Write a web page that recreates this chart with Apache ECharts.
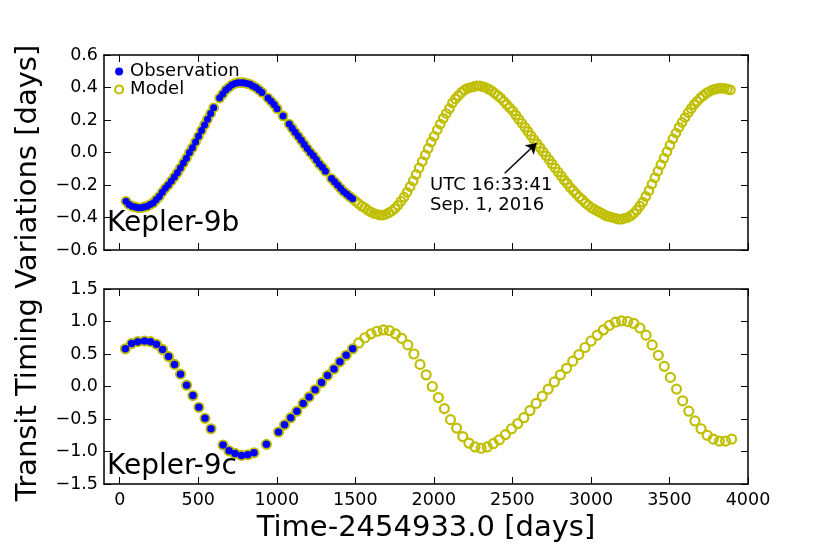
<!DOCTYPE html>
<html>
<head>
<meta charset="utf-8">
<script src="https://cdn.jsdelivr.net/npm/echarts@6/dist/echarts.min.js"></script>
<style>
  html, body { margin: 0; padding: 0; background: #fff; }
  #main { width: 830px; height: 554px; }
</style>
</head>
<body>
<div id="main"></div>
<script>
// Kepler-9b: observed transit times (days) and TTV (days)
const bObsT = [40,59,78,98,117,136,155,175,194,213,232,252,271,290,309,329,348,367,386,406,425,444,463,483,502,521,540,559,579,598,
  636,656,675,694,713,733,752,771,790,810,829,848,867,887,906,
  944,964,983,1002,
  1040,
  1079,1098,1117,1137,1156,1175,1194,1214,1233,1252,1271,1291,1310,
  1348,1368,1387,1406,1425,1445,1464,1483]
const bObsV = [-0.30,-0.32,-0.33,-0.335,-0.34,-0.34,-0.335,-0.33,-0.32,-0.31,-0.29,-0.27,-0.245,-0.22,-0.20,-0.175,-0.15,-0.125,-0.095,-0.065,-0.035,0.00,0.03,0.065,0.10,0.135,0.17,0.205,0.24,0.275,
  0.335,0.36,0.385,0.40,0.415,0.425,0.43,0.43,0.43,0.425,0.42,0.41,0.40,0.385,0.37,
  0.335,0.315,0.295,0.27,
  0.225,
  0.175,0.15,0.125,0.10,0.075,0.05,0.025,0.00,-0.02,-0.045,-0.07,-0.09,-0.115,
  -0.16,-0.18,-0.20,-0.22,-0.24,-0.255,-0.27,-0.285]

// Kepler-9b: model prediction after the observations
const bFitT = [1502,1521,1541,1560,1579,1598,1618,1637,1656,1675,1695,1714,1733,1752,1772,1791,1810,1829,1849,1868,
  1887,1906,1926,1945,1964,1983,2002,2022,2041,2060,2079,2099,2118,2137,2156,2176,2195,2214,2233,2253,
  2272,2291,2310,2330,2349,2368,2387,2407,2426,2445,2464,2483,2503,2522,2541,2560,2580,2599,2618,2637,
  2657,2676,2695,2714,2734,2753,2772,2791,2811,2830,2849,2868,2888,2907,2926,2945,2964,2984,3003,3022,
  3041,3061,3080,3099,3118,3138,3157,3176,3195,3215,3234,3253,3272,3292,3311,3330,3349,3369,3388,3407,
  3426,3445,3465,3484,3503,3522,3542,3561,3580,3599,3619,3638,3657,3676,3696,3715,3734,3753,3773,3792,
  3811,3830,3850,3869,3888]
const bFitV = [-0.30,-0.315,-0.33,-0.34,-0.355,-0.365,-0.375,-0.38,-0.385,-0.385,-0.38,-0.37,-0.36,-0.345,-0.325,-0.30,-0.275,-0.245,-0.21,-0.175,
  -0.135,-0.095,-0.055,-0.015,0.025,0.065,0.10,0.14,0.175,0.21,0.24,0.27,0.305,0.33,0.35,0.37,0.385,0.395,0.40,0.405,
  0.41,0.41,0.405,0.40,0.39,0.38,0.365,0.35,0.335,0.315,0.295,0.275,0.255,0.23,0.205,0.18,0.155,0.13,0.105,0.08,
  0.055,0.03,0.005,-0.02,-0.045,-0.07,-0.095,-0.12,-0.145,-0.17,-0.19,-0.215,-0.235,-0.255,-0.275,-0.29,-0.31,-0.325,-0.34,-0.35,
  -0.36,-0.37,-0.38,-0.39,-0.395,-0.40,-0.405,-0.41,-0.41,-0.405,-0.40,-0.39,-0.375,-0.355,-0.33,-0.305,-0.27,-0.235,-0.195,-0.155,
  -0.115,-0.075,-0.035,0.005,0.045,0.085,0.12,0.155,0.185,0.215,0.245,0.27,0.295,0.315,0.335,0.35,0.365,0.375,0.385,0.39,
  0.395,0.395,0.395,0.39,0.385]

// Kepler-9c: observed transit times and TTV
const cObsT = [36,75,115,158,196,234,273,311,349,387,426,466,504,543,581,
  658,696,734,775,815,855,
  934,
  1011,1049,1089,1128,1168,1206,1244,1285,1323,1364,1402,1442,1483]
const cObsV = [0.58,0.66,0.69,0.70,0.69,0.65,0.57,0.46,0.34,0.19,0.02,-0.14,-0.32,-0.49,-0.65,
  -0.90,-0.99,-1.03,-1.06,-1.05,-1.02,
  -0.89,
  -0.70,-0.59,-0.48,-0.38,-0.26,-0.16,-0.05,0.06,0.17,0.27,0.38,0.48,0.58]

// Kepler-9c: model prediction
const cFitT = [1522,1561,1600,1639,1678,1717,1756,1795,1834,1873,1912,1951,1990,2029,2067,2106,2145,2184,2223,2262,
  2301,2340,2378,2417,2456,2495,2534,2573,2612,2651,2690,2728,2767,2806,2845,2884,2923,2962,3001,3040,
  3079,3117,3156,3195,3234,3273,3312,3351,3390,3429,3467,3506,3545,3584,3623,3662,3701,3740,3779,3818,
  3857,3896]
const cFitV = [0.67,0.75,0.81,0.85,0.87,0.86,0.81,0.74,0.64,0.50,0.34,0.18,0.00,-0.17,-0.34,-0.51,-0.64,-0.77,-0.87,-0.93,
  -0.95,-0.93,-0.88,-0.82,-0.74,-0.65,-0.57,-0.48,-0.37,-0.26,-0.15,-0.04,0.07,0.18,0.28,0.39,0.49,0.60,0.70,0.79,
  0.87,0.94,0.99,1.01,1.00,0.97,0.90,0.79,0.64,0.48,0.31,0.14,-0.04,-0.22,-0.38,-0.53,-0.65,-0.75,-0.81,-0.84,
  -0.84,-0.81]

// tick values
const xTicks = [0,500,1000,1500,2000,2500,3000,3500,4000]

// annotation (arrow tail, arrow head, text corner) in data units
const arrowFrom = [2451, -0.128]
const arrowTo = [2653, 0.057]
const noteAt = [1976, -0.138]
const noteLines = ['UTC 16:33:41', 'Sep. 1, 2016']

const FONT = 'DejaVu Sans'
const YELLOW = '#bfbf00'
const BLUE = '#0000ff'

const pairs = (t, v) => t.map((x, i) => [x, v[i]])
const fmt = v => v.toFixed(1).replace('-', '\u2212')

// x axis (bottom or top of one panel)
const xAx = (gridIndex, position, labels) => ({
    type: 'value', gridIndex, position, min: -100, max: 4000,
    axisLine: { show: true, onZero: false, lineStyle: { color: '#000', width: 1.5 } },
    axisTick: { show: true, inside: true, length: 7, customValues: xTicks, lineStyle: { color: '#000', width: 1 } },
    axisLabel: { show: labels, customValues: xTicks, margin: 7, color: '#000', fontFamily: FONT, fontSize: 17.5, formatter: v => String(v) },
    splitLine: { show: false }
})
// y axis (left or right of one panel)
const yAx = (gridIndex, position, labels, lim, step) => ({
    type: 'value', gridIndex, position, min: -lim, max: lim, interval: step,
    axisLine: { show: true, onZero: false, lineStyle: { color: '#000', width: 1.5 } },
    axisTick: { show: true, inside: true, length: 7, lineStyle: { color: '#000', width: 1 } },
    axisLabel: { show: labels, margin: 6, color: '#000', fontFamily: FONT, fontSize: 17.5, formatter: fmt },
    splitLine: { show: false }
})

const modelStyle = { color: 'rgba(0,0,0,0)', borderColor: YELLOW, borderWidth: 2.2, opacity: 1 }
const obsStyle = { color: BLUE, borderWidth: 0, opacity: 1 }

const mychart = echarts.init(document.getElementById('main'))
const option = {
    animation: false,
    backgroundColor: '#fff',
    grid: [
        { left: 104, top: 55, width: 644, height: 195 },
        { left: 104, top: 289, width: 644, height: 195 }
    ],
    xAxis: [
        xAx(0, 'bottom', false),
        xAx(0, 'top', false),
        Object.assign(xAx(1, 'bottom', true), {
            name: 'Time-2454933.0 [days]', nameLocation: 'middle', nameGap: 30,
            nameTextStyle: { color: '#000', fontFamily: FONT, fontSize: 29 }
        }),
        xAx(1, 'top', false)
    ],
    yAxis: [
        yAx(0, 'left', true, 0.6, 0.2),
        yAx(0, 'right', false, 0.6, 0.2),
        yAx(1, 'left', true, 1.5, 0.5),
        yAx(1, 'right', false, 1.5, 0.5)
    ],
    legend: {
        orient: 'vertical', left: 114, top: 62.5, padding: 0, itemGap: 0,
        itemWidth: 12, itemHeight: 8, selectedMode: false,
        textStyle: { color: '#000', fontFamily: FONT, fontSize: 18, lineHeight: 18 },
        data: [
            { name: 'Observation', icon: 'circle', itemStyle: obsStyle },
            { name: 'Model', icon: 'circle', itemStyle: modelStyle }
        ]
    },
    title: [
        { text: 'Kepler-9b', left: 107, top: 210, padding: 0, textStyle: { color: '#000', fontFamily: FONT, fontSize: 28, fontWeight: 'normal' } },
        { text: 'Kepler-9c', left: 107, top: 453, padding: 0, textStyle: { color: '#000', fontFamily: FONT, fontSize: 28, fontWeight: 'normal' } }
    ],
    graphic: [{
        type: 'text', x: 28, y: 273, rotation: Math.PI / 2,
        style: { text: 'Transit Timing Variations [days]', fill: '#000', fontFamily: FONT, fontSize: 29, align: 'center', verticalAlign: 'middle' }
    }],
    series: [
        {
            name: 'Model', type: 'scatter', xAxisIndex: 0, yAxisIndex: 0, z: 2,
            symbol: 'circle', symbolSize: 8.5, itemStyle: modelStyle,
            data: pairs(bObsT.concat(bFitT), bObsV.concat(bFitV)),
            //箭头标注
            markLine: {
                silent: true, symbol: ['none', 'arrow'], symbolSize: 10,
                lineStyle: { color: '#000', width: 1.5, type: 'solid' },
                label: { show: false },
                data: [[{ coord: arrowFrom }, { coord: arrowTo }]]
            },
            markPoint: {
                silent: true, symbol: 'circle', symbolSize: 0,
                itemStyle: { color: 'rgba(0,0,0,0)' },
                data: [{
                    coord: noteAt,
                    label: {
                        show: true, position: [0, 0], align: 'left', verticalAlign: 'top',
                        formatter: noteLines.join('\n'), color: '#000', fontFamily: FONT, fontSize: 18, lineHeight: 20
                    }
                }]
            }
        },
        {
            name: 'Observation', type: 'scatter', xAxisIndex: 0, yAxisIndex: 0, z: 3,
            symbol: 'circle', symbolSize: 7, itemStyle: obsStyle,
            data: pairs(bObsT, bObsV)
        },
        {
            name: 'Model', type: 'scatter', xAxisIndex: 2, yAxisIndex: 2, z: 2,
            symbol: 'circle', symbolSize: 9, itemStyle: modelStyle,
            data: pairs(cObsT.concat(cFitT), cObsV.concat(cFitV))
        },
        {
            name: 'Observation', type: 'scatter', xAxisIndex: 2, yAxisIndex: 2, z: 3,
            symbol: 'circle', symbolSize: 7.5, itemStyle: obsStyle,
            data: pairs(cObsT, cObsV)
        }
    ]
}
mychart.setOption(option)
</script>
</body>
</html>
